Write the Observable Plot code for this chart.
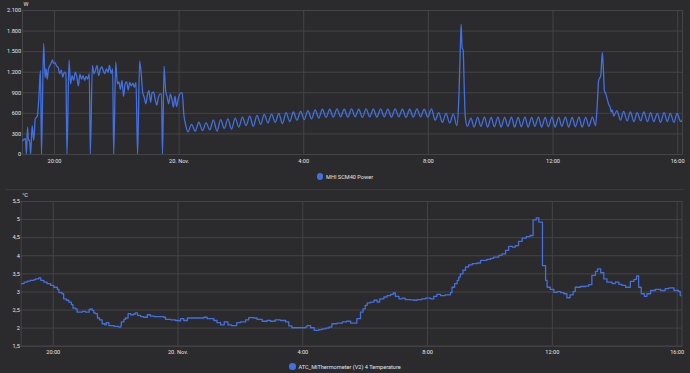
<!DOCTYPE html>
<html><head><meta charset="utf-8">
<script src="https://cdn.jsdelivr.net/npm/d3@7"></script>
<script src="https://cdn.jsdelivr.net/npm/@observablehq/plot@0.6"></script>
<style>
html,body{margin:0;padding:0;background:#2b2b2d;}
#root{position:relative;width:690px;height:373px;overflow:hidden;background:#2b2b2d;font-family:Roboto,sans-serif;}
.panel{position:absolute;left:0;}
.legend{position:absolute;left:0;width:690px;height:8px;display:flex;justify-content:center;align-items:center;font-size:5.6px;line-height:8px;color:#e3e3e3;white-space:nowrap;}
.dot{width:6.6px;height:6.6px;border-radius:50%;margin-right:2.6px;flex:none;}
.sep{position:absolute;left:5px;width:679px;top:189px;height:1px;background:#3a3a3d;}
</style>
</head><body>
<div id="root">
  <div id="top" class="panel" style="top:0px"></div>
  <div id="legTop" class="legend" style="top:172.7px"></div>
  <div class="sep"></div>
  <div id="bot" class="panel" style="top:189px"></div>
  <div id="legBot" class="legend" style="top:362.7px"></div>
</div>
<script>
// ---- data (time = minutes after 19 Nov 19:00) ----
const xTickMinutes = [60, 300, 540, 780, 1020, 1260];
const xTickLabels = ["20:00", "20. Nov.", "4:00", "8:00", "12:00", "16:00"];
const timeDomain = [-1.6, 1269.4];

const powerName = "MHI SCM40 Power";
const powerUnit = "W";
const powerTicks = [0, 300, 600, 900, 1200, 1500, 1800, 2100];
const powerTickLabels = ["0", "300", "600", "900", "1.200", "1.500", "1.800", "2.100"];

const tempName = "ATC_MiThermometer (V2) 4 Temperature";
const tempUnit = "°C";
const tempTicks = [1.5, 2, 2.5, 3, 3.5, 4, 4.5, 5, 5.5];
const tempTickLabels = ["1,5", "2", "2,5", "3", "3,5", "4", "4,5", "5", "5,5"];

// [minute, W]
const powerSeries = [
[-2,200],[4,230],[6,0],[8,400],[10,205],[12,210],[14,0],[17,420],[20,205],[23,520],[27,560],[30,840],[33,1225],[35,0],[39,1620],[42,1120],[44,1250],[46,1100],[48,1230],[50,1280],[53,1320],[56,1380],[58,1330],[61,1340],[64,1290],[67,1270],[70,1180],[73,1230],[76,1130],[79,1200],[82,1180],[84,0],[88,1380],[91,1030],[94,1150],[97,1080],[100,1200],[103,1130],[106,1000],[109,1170],[112,1100],[115,1150],[118,1080],[121,1140],[124,1100],[127,1180],[129,0],[133,1300],[136,1180],[139,1230],[142,1300],[145,1150],[148,1240],[151,1280],[154,1220],[157,1180],[160,1250],[163,1200],[166,1300],[169,1180],[172,1250],[174,0],[178,1350],[181,1030],[184,1060],[187,950],[190,1080],[193,850],[196,1030],[199,1060],[202,940],[205,1050],[208,1000],[211,1040],[214,980],[217,1050],[220,0],[224,1360],[227,1180],[230,900],[233,830],[236,740],[239,870],[242,930],[245,760],[248,900],[251,910],[254,800],[257,720],[260,830],[263,880],[266,880],[268,0],[271,1290],[274,930],[277,840],[280,740],[283,880],[286,810],[289,690],[292,850],[295,700],[298,800],[301,880],[304,900],[306,900],[309,590],[313,420],
[317,330],[324,440],[331,340],[338,470],[345,350],[352,460],[359,360],[366,500],[373,340],[380,510],[387,380],[394,520],[401,370],[408,530],[415,400],[422,545],[429,420],[436,560],[443,410],[450,570],[457,440],[464,585],[471,460],[478,590],[485,470],[492,600],[499,450],[506,610],[513,480],[520,620],[527,500],[534,630],[541,510],[548,640],[555,520],[562,650],[569,530],[576,660],[583,540],[590,660],[597,545],[604,665],[611,550],[618,660],[625,545],[632,665],[639,550],[646,660],[653,540],[660,665],[667,550],[674,660],[681,545],[688,665],[695,550],[702,660],[709,545],[716,665],[723,550],[730,660],[737,540],[744,660],[751,545],[758,665],[765,550],[772,660],[779,545],[786,665],[793,500],[800,610],[807,470],[814,600],[821,460],[828,590],[835,420],
[838,700],[841,1400],[843,1900],[845,1560],[847,1520],[849,1000],[851,560],[855,410],
[862,530],[868,400],[875,540],[881,410],[888,545],[894,400],[901,540],[907,405],[914,545],[920,400],[927,540],[933,410],[940,545],[946,400],[953,540],[959,405],[966,545],[972,400],[979,540],[985,410],[992,545],[998,400],[1005,540],[1011,405],[1018,545],[1024,400],[1031,540],[1037,410],[1044,545],[1050,400],[1057,540],[1063,405],[1070,545],[1076,400],[1083,540],[1089,410],[1096,545],[1102,420],
[1105,700],[1108,1080],[1112,1150],[1115,1490],[1117,1250],[1119,930],[1122,880],[1125,790],[1128,720],[1130,690],[1132,620],[1134,650],[1137,560],
[1143,640],[1150,500],[1156,630],[1163,490],[1169,620],[1176,480],[1182,610],[1189,490],[1195,620],[1202,480],[1208,610],[1214,480],[1221,600],[1227,470],[1234,610],[1240,480],[1246,600],[1253,470],[1259,600],[1266,480],[1271,530]
];

// [minute, °C]
const tempSeries = [
[-1,3.23],[4,3.27],[10,3.30],[16,3.32],[23,3.34],[26,3.36],[32,3.39],[36,3.32],[42,3.27],[48,3.23],[55,3.18],[61,3.13],[68,3.07],[71,2.98],[77,2.95],[80,2.81],[85,2.77],[90,2.72],[95,2.65],[98,2.55],[103,2.53],[106,2.44],[116,2.46],[122,2.44],[129,2.52],[132,2.53],[135,2.49],[138,2.42],[141,2.40],[145,2.28],[149,2.23],[154,2.12],[159,2.09],[162,2.15],[167,2.07],[177,2.05],[186,2.03],[190,2.07],[191,2.17],[196,2.24],[199,2.28],[204,2.40],[209,2.37],[215,2.39],[218,2.42],[222,2.35],[228,2.32],[234,2.30],[241,2.37],[247,2.33],[254,2.32],[273,2.30],[276,2.24],[286,2.23],[295,2.21],[302,2.20],[305,2.26],[311,2.21],[318,2.28],[350,2.30],[356,2.26],[369,2.21],[375,2.15],[382,2.09],[389,2.17],[396,2.09],[403,2.07],[413,2.15],[420,2.17],[430,2.23],[436,2.29],[446,2.28],[452,2.24],[462,2.19],[471,2.21],[478,2.19],[487,2.23],[497,2.21],[507,2.17],[513,2.06],[519,2.01],[545,2.03],[548,2.07],[555,2.01],[562,1.94],[571,1.96],[577,1.98],[584,2.00],[590,2.03],[596,2.12],[606,2.14],[616,2.17],[624,2.19],[632,2.14],[644,2.26],[651,2.44],[656,2.53],[660,2.63],[664,2.70],[670,2.72],[677,2.77],[683,2.72],[688,2.81],[696,2.86],[702,2.90],[709,2.93],[714,2.97],[718,2.88],[725,2.81],[731,2.83],[737,2.79],[747,2.78],[753,2.77],[760,2.79],[769,2.81],[776,2.83],[786,2.81],[792,2.88],[798,2.93],[805,2.90],[814,2.92],[824,2.98],[827,3.13],[832,3.23],[837,3.32],[840,3.41],[843,3.50],[848,3.60],[853,3.69],[859,3.75],[866,3.78],[875,3.80],[882,3.87],[894,3.90],[901,3.93],[907,3.96],[917,4.01],[923,4.05],[930,4.15],[936,4.26],[943,4.24],[949,4.28],[955,4.40],[962,4.49],[970,4.53],[977,4.56],[983,4.99],[989,5.05],[994,4.93],[1001,3.73],[1007,3.32],[1010,3.13],[1016,3.07],[1023,2.99],[1029,3.01],[1036,2.98],[1042,2.95],[1048,2.84],[1054,2.92],[1060,3.01],[1064,3.13],[1074,3.15],[1084,3.16],[1090,3.20],[1096,3.46],[1103,3.57],[1107,3.64],[1113,3.53],[1119,3.36],[1125,3.27],[1135,3.23],[1141,3.27],[1148,3.21],[1154,3.18],[1161,3.13],[1170,3.29],[1177,3.35],[1182,3.44],[1186,3.13],[1191,2.95],[1197,2.88],[1202,2.95],[1209,3.04],[1218,3.07],[1228,3.04],[1237,3.09],[1244,3.11],[1254,3.04],[1263,3.01],[1266,2.90],[1272,2.90]
];

// ---- style ----
const lineColor = "#4270e0";
const gridColor = "#444446";
const textColor = "#e3e3e3";
const fontSize = "5.6px";

function panel({series, ticks, labels, unit, yDomain, height, mTop, mBottom, mLeft, mRight, xPad, curve}) {
  const fmtY = d => labels[ticks.indexOf(d)];
  const fmtX = d => xTickLabels[xTickMinutes.indexOf(d)];
  return Plot.plot({
    width: 690, height,
    marginTop: mTop, marginBottom: mBottom, marginLeft: mLeft, marginRight: mRight,
    style: {background: "transparent", color: textColor, fontFamily: "Roboto, sans-serif", fontSize},
    x: {domain: timeDomain, axis: null},
    y: {domain: yDomain, axis: null},
    marks: [
      Plot.gridX(xTickMinutes, {stroke: gridColor, strokeOpacity: 1}),
      Plot.gridY(ticks, {stroke: gridColor, strokeOpacity: 1}),
      Plot.frame({stroke: gridColor}),
      Plot.axisX({ticks: xTickMinutes, tickFormat: fmtX, tickSize: 0, tickPadding: xPad, label: null, fill: textColor}),
      Plot.axisY({ticks, tickFormat: fmtY, tickSize: 0, tickPadding: 1.4, label: null, fill: textColor}),
      Plot.line(series, {x: d => d[0], y: d => d[1], stroke: lineColor, strokeWidth: 1.3, curve, clip: true}),
      Plot.text([unit], {frameAnchor: "top-left", textAnchor: "start", lineAnchor: "middle", dx: 1, dy: -6, fill: textColor})
    ]
  });
}

document.getElementById("top").append(panel({
  series: powerSeries, ticks: powerTicks, labels: powerTickLabels, unit: powerUnit,
  yDomain: [0, 2100], height: 168, mTop: 10, mBottom: 14, mLeft: 22, mRight: 8, xPad: 5, curve: "monotone-x"
}));
document.getElementById("bot").append(panel({
  series: tempSeries, ticks: tempTicks, labels: tempTickLabels, unit: tempUnit,
  yDomain: [1.5, 5.5], height: 170, mTop: 12, mBottom: 13.3, mLeft: 20.7, mRight: 8.5, xPad: 4, curve: "step-after"
}));

function legend(id, name) {
  const el = document.getElementById(id);
  const dot = document.createElement("span");
  dot.className = "dot"; dot.style.background = lineColor;
  const t = document.createElement("span");
  t.textContent = name;
  el.append(dot, t);
}
legend("legTop", powerName);
legend("legBot", tempName);
</script>
</body></html>
